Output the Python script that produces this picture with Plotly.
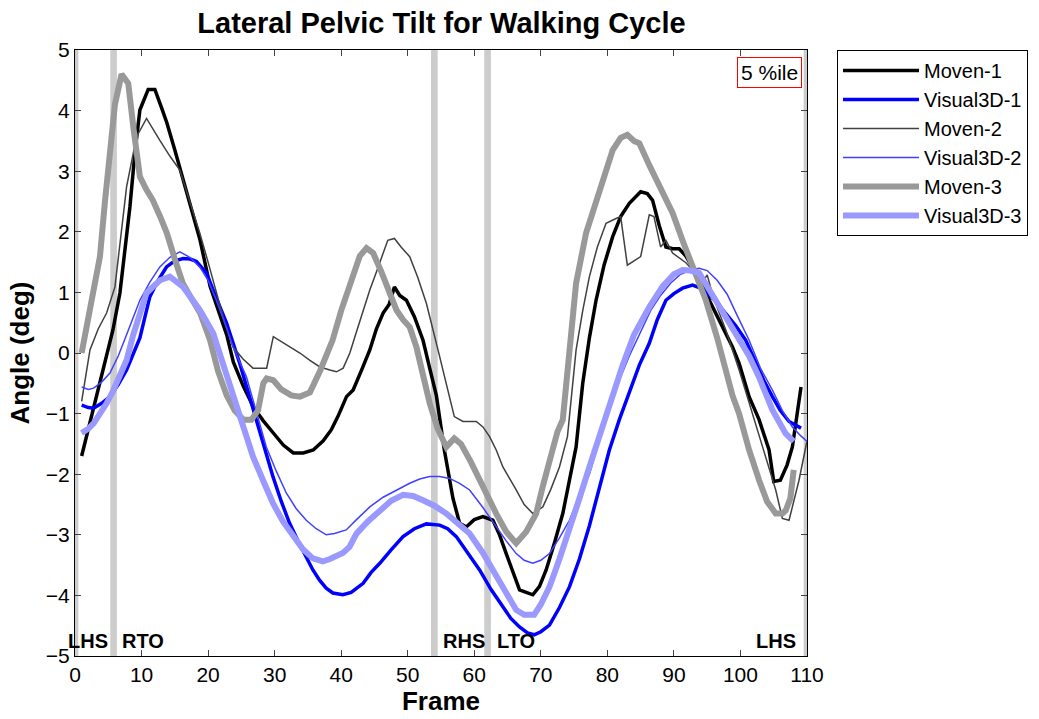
import plotly.graph_objects as go

# ---------------- data ----------------
m1_x = [1, 2, 3, 4, 5, 5.7, 6.75, 7.5, 8.25, 9, 9.75, 11, 12, 13, 13.8, 15, 16.3, 17.5, 18.8, 20.3, 21.5, 22.8, 23.8, 25.3, 26.8, 28.3, 29.8, 31.3, 32.8, 34.3, 35.8, 37.3, 38.5, 39.5, 40.8, 41.8, 43, 44.3, 45.3, 46.3, 47.2, 48, 48.8, 49.8, 51, 52.3, 53.3, 54.3, 55.5, 56.8, 57.8, 58.8, 60, 61.3, 62.8, 63.8, 64.8, 65.8, 66.8, 67.8, 68.8, 69.8, 70.8, 72, 73.3, 74.3, 75.3, 76.3, 77.3, 78.3, 79.5, 80.8, 82, 83.3, 85, 86, 86.8, 87.8, 88.8, 89.8, 90.8, 91.8, 93.3, 94.5, 95.8, 97.3, 98.8, 99.8, 101.3, 102.8, 104.3, 105, 106, 107, 107.8, 109.1]
m1_y = [-1.7, -1.25, -0.83, -0.4, 0.05, 0.38, 0.99, 1.7, 2.41, 3.3, 4.01, 4.35, 4.35, 4.05, 3.8, 3.35, 2.85, 2.35, 1.86, 1.1, 0.7, 0.3, -0.15, -0.55, -0.89, -1.12, -1.32, -1.52, -1.65, -1.65, -1.6, -1.45, -1.27, -1.05, -0.72, -0.61, -0.3, 0.05, 0.4, 0.66, 0.8, 1.09, 0.95, 0.87, 0.6, 0.21, -0.25, -0.7, -1.6, -2.4, -2.81, -2.87, -2.75, -2.7, -2.76, -3.0, -3.31, -3.6, -3.91, -3.95, -3.99, -3.85, -3.58, -3.15, -2.65, -2.1, -1.55, -0.5, 0.25, 0.87, 1.45, 1.92, 2.25, 2.47, 2.66, 2.63, 2.52, 2.1, 1.75, 1.72, 1.72, 1.6, 1.32, 1.05, 0.76, 0.45, 0.1, -0.17, -0.72, -1.1, -1.6, -2.12, -2.1, -1.85, -1.55, -0.56]

v1_x = [1, 2, 2.8, 4, 5.25, 6.5, 7.75, 8.75, 9.75, 11.25, 12.5, 13.75, 15, 16.25, 17.3, 18.25, 19.75, 21.25, 22.75, 24.75, 26, 27.25, 28.5, 29.75, 31, 32.25, 33.5, 34.75, 35.75, 36.75, 37.75, 38.75, 40.25, 41.5, 43.3, 44.5, 45.8, 47.5, 49.3, 51, 52.8, 54.8, 56, 57.3, 59, 60.8, 62.5, 64.3, 65.5, 66.8, 68, 69, 70, 71.3, 72.8, 74.3, 75.8, 77.3, 78.8, 80.3, 81.8, 83.3, 84.8, 86.3, 87.5, 88.8, 90, 91.3, 92.8, 93.8, 94.8, 96.3, 97.8, 99.3, 100.8, 102.3, 103.5, 104.8, 106, 107.3, 108.3, 109.1]
v1_y = [-0.86, -0.9, -0.91, -0.83, -0.72, -0.52, -0.28, 0.0, 0.25, 0.93, 1.2, 1.42, 1.52, 1.56, 1.55, 1.51, 1.32, 0.9, 0.5, -0.17, -0.65, -1.1, -1.6, -2.04, -2.45, -2.81, -3.1, -3.36, -3.58, -3.75, -3.88, -3.96, -3.99, -3.95, -3.8, -3.62, -3.47, -3.25, -3.03, -2.9, -2.82, -2.84, -2.9, -3.03, -3.3, -3.58, -3.9, -4.19, -4.38, -4.52, -4.62, -4.65, -4.6, -4.49, -4.2, -3.86, -3.4, -2.85, -2.2, -1.6, -1.1, -0.65, -0.2, 0.16, 0.55, 0.87, 0.98, 1.07, 1.12, 1.08, 1.01, 0.85, 0.65, 0.45, 0.21, -0.17, -0.45, -0.72, -0.95, -1.13, -1.2, -1.24]

m2_x = [1, 2.25, 3.5, 4.75, 6, 7, 7.75, 9.25, 10.75, 12.75, 14.25, 15.75, 17.25, 18.75, 20, 21.25, 22.5, 23.75, 25.25, 26.75, 28.8, 29.8, 31.8, 33.8, 35.3, 36.8, 38.3, 39.3, 40.3, 41.3, 42.3, 43.3, 44.3, 45.5, 47, 48, 49, 50.3, 51.5, 52.8, 53.8, 54.8, 56, 57, 58.3, 60.3, 61.3, 62.3, 63.3, 64.3, 66.3, 67.5, 68.8, 70.3, 71.5, 72.8, 74, 74.6, 75.3, 76.3, 77.3, 78.5, 79.8, 81.3, 82, 83, 84, 85, 86.3, 87, 88, 88.8, 89.8, 91.8, 93, 94.3, 95, 95.5, 96.5, 97.8, 99.8, 101.8, 103.8, 105.3, 106.3, 107.3, 108.8, 110]
m2_y = [-0.8, 0.05, 0.4, 0.66, 1.09, 2.0, 2.74, 3.57, 3.87, 3.51, 3.25, 3.02, 2.5, 1.98, 1.5, 0.99, 0.5, 0.1, -0.1, -0.25, -0.25, 0.27, 0.13, 0.0, -0.12, -0.23, -0.28, -0.31, -0.25, 0.0, 0.35, 0.7, 1.04, 1.4, 1.86, 1.89, 1.75, 1.59, 1.25, 0.82, 0.4, -0.06, -0.6, -1.05, -1.13, -1.13, -1.22, -1.38, -1.6, -1.88, -2.26, -2.5, -2.65, -2.54, -2.25, -1.88, -1.38, -0.7, 0.05, 0.7, 1.26, 1.75, 2.14, 2.22, 2.25, 1.45, 1.52, 1.59, 2.28, 2.25, 1.75, 1.86, 1.65, 1.49, 1.35, 1.16, 1.29, 1.09, 0.75, 0.38, -0.28, -1.0, -1.71, -2.26, -2.73, -2.76, -2.1, -1.45]

v2_x = [1, 2, 2.8, 4, 5.25, 6.5, 7.75, 8.75, 9.75, 11.25, 12.75, 14.25, 15.75, 17.25, 18.75, 20, 21.25, 22.5, 23.75, 25.75, 27.25, 28.75, 30.25, 31.75, 33.25, 34.75, 36.25, 37.75, 39, 40.75, 42.3, 44.3, 46.3, 48.3, 50.3, 51.8, 53.3, 54.8, 56.3, 57.8, 59.3, 61.3, 63.3, 64.8, 66.3, 67.5, 68.8, 70, 71.3, 72.8, 74.3, 75.8, 77.3, 78.8, 80.3, 81.8, 83.3, 85, 86.5, 88, 89.5, 91, 92.5, 93.8, 95, 96.5, 98, 99.5, 101.3, 103, 104.8, 106.3, 107.8, 109, 110]
v2_y = [-0.56, -0.6, -0.58, -0.48, -0.33, -0.05, 0.3, 0.6, 0.87, 1.17, 1.42, 1.58, 1.67, 1.58, 1.42, 1.2, 0.87, 0.5, 0.1, -0.39, -0.95, -1.55, -1.95, -2.31, -2.57, -2.76, -2.9, -3.0, -2.98, -2.92, -2.75, -2.54, -2.38, -2.26, -2.15, -2.08, -2.04, -2.04, -2.07, -2.15, -2.26, -2.55, -2.87, -3.1, -3.31, -3.42, -3.47, -3.42, -3.31, -3.05, -2.76, -2.35, -2.0, -1.45, -0.95, -0.45, -0.05, 0.35, 0.7, 0.95, 1.15, 1.3, 1.37, 1.4, 1.36, 1.2, 0.97, 0.62, 0.21, -0.25, -0.61, -0.95, -1.22, -1.36, -1.46]

m3_x = [1, 2.25, 3, 3.75, 4.5, 5.25, 6, 7, 8, 8.8, 9.75, 10.7, 11.7, 12.8, 13.8, 15, 16.2, 17.5, 18.8, 20.3, 21.5, 22.8, 24, 25.3, 26.5, 27.5, 28.3, 28.8, 29.8, 31, 32.5, 33.8, 35.3, 36.8, 38.7, 40, 41.5, 42.8, 43.8, 44.8, 46, 47.2, 48.3, 49.3, 50.3, 51.3, 52.3, 53.3, 54.5, 55.8, 57, 58, 59.5, 60.8, 62, 63.3, 64.8, 66.3, 67.8, 69.3, 70.3, 71.5, 72.5, 73.3, 74, 74.6, 75.3, 76.8, 78.3, 80.8, 82, 83, 84, 84.8, 86.3, 88, 89.8, 91.5, 93, 94.8, 96.5, 97.8, 98.8, 99.8, 101.3, 102.8, 104, 105.3, 106.3, 106.8, 107.5, 108]
m3_y = [0.0, 0.76, 1.2, 1.59, 2.5, 3.4, 4.1, 4.6, 4.45, 3.7, 2.91, 2.7, 2.52, 2.25, 1.98, 1.55, 1.15, 0.9, 0.66, 0.21, -0.3, -0.7, -0.95, -1.1, -1.1, -0.95, -0.5, -0.42, -0.45, -0.6, -0.7, -0.72, -0.65, -0.3, 0.21, 0.7, 1.2, 1.6, 1.73, 1.65, 1.35, 1.0, 0.71, 0.55, 0.43, 0.1, -0.35, -0.83, -1.25, -1.55, -1.41, -1.5, -1.8, -2.1, -2.35, -2.65, -2.95, -3.14, -2.95, -2.65, -2.2, -1.7, -1.3, -1.1, -0.3, 0.3, 1.15, 1.98, 2.52, 3.35, 3.55, 3.6, 3.5, 3.46, 3.1, 2.7, 2.31, 1.8, 1.4, 0.87, 0.25, -0.33, -0.7, -1.0, -1.6, -2.1, -2.45, -2.65, -2.65, -2.6, -2.4, -1.93]

v3_x = [1, 2, 2.8, 3.8, 4.75, 5.75, 6.75, 7.75, 8.75, 10.75, 12.75, 14.25, 16.25, 18.75, 20.75, 22.75, 24.75, 26.75, 28.25, 29.75, 31.25, 32.75, 34.25, 35.75, 37.25, 38.3, 39.25, 40.25, 41.25, 42.3, 44, 45.8, 47.5, 49.3, 50.8, 52.3, 54, 55.8, 57.5, 59.3, 61.3, 63.3, 64.8, 66.3, 67.5, 69, 70, 71.3, 72.8, 74.3, 75.8, 77.3, 79, 80.8, 82.3, 84, 86.3, 88.3, 90, 91.3, 92.5, 93.8, 95.3, 96.8, 98.3, 99.8, 101.3, 102.8, 104.8, 106.8, 108]
v3_y = [-1.32, -1.25, -1.16, -1.0, -0.83, -0.62, -0.39, -0.12, 0.3, 0.99, 1.2, 1.26, 1.09, 0.71, 0.33, -0.33, -1.0, -1.71, -2.1, -2.48, -2.78, -3.03, -3.24, -3.39, -3.44, -3.4, -3.36, -3.3, -3.2, -2.98, -2.78, -2.59, -2.44, -2.34, -2.36, -2.43, -2.52, -2.65, -2.8, -2.98, -3.3, -3.69, -3.98, -4.24, -4.32, -4.32, -4.15, -3.86, -3.4, -2.92, -2.4, -1.88, -1.3, -0.72, -0.2, 0.3, 0.76, 1.1, 1.3, 1.37, 1.36, 1.32, 1.05, 0.76, 0.5, 0.21, -0.05, -0.4, -0.94, -1.33, -1.46]

event_frames = [0, 5.8, 54, 62, 110]
event_labels = ["LHS", "RTO", "RHS", "LTO", "LHS"]
event_label_x = [1.95, 10.2, 58.4, 66.3, 105.3]

series = [
    ("Moven-1", m1_x, m1_y, "#000000", 3.5),
    ("Visual3D-1", v1_x, v1_y, "#0000ff", 3.5),
    ("Moven-2", m2_x, m2_y, "#404040", 1.5),
    ("Visual3D-2", v2_x, v2_y, "#4040ff", 1.5),
    ("Moven-3", m3_x, m3_y, "#999999", 6),
    ("Visual3D-3", v3_x, v3_y, "#9999ff", 6),
]

FONT = "Arial, Liberation Sans, sans-serif"

fig = go.Figure()
for name, xs, ys, color, w in series:
    fig.add_trace(go.Scatter(x=xs, y=ys, mode="lines", name=name,
                             line=dict(color=color, width=w)))

for ev in event_frames:
    fig.add_shape(type="rect", xref="x", yref="y", x0=ev - 0.5, x1=ev + 0.5,
                  y0=-5, y1=5, fillcolor="#cccccc", line=dict(width=0), layer="below")

for lx, lab in zip(event_label_x, event_labels):
    fig.add_annotation(x=lx, y=-4.75, xref="x", yref="y", text="<b>%s</b>" % lab,
                       showarrow=False, font=dict(family=FONT, size=20, color="black"))

fig.add_annotation(x=0.993, y=0.988, xref="paper", yref="paper", xanchor="right", yanchor="top",
                   text="5 %ile", showarrow=False, bordercolor="#ff0000", borderwidth=1,
                   borderpad=3, bgcolor="white", font=dict(family=FONT, size=21, color="black"))

fig.update_layout(
    width=1039, height=719,
    margin=dict(l=75, r=231, t=50, b=63),
    paper_bgcolor="white", plot_bgcolor="white",
    font=dict(family=FONT, size=21, color="black"),
    title=dict(text="<b>Lateral Pelvic Tilt for Walking Cycle</b>", x=(75 + 808) / 2 / 1039,
               xanchor="center", y=1 - 23 / 719, yanchor="middle",
               font=dict(family=FONT, size=29, color="black")),
    legend=dict(x=1.0396, y=1.0, xanchor="left", yanchor="top", bordercolor="black",
                borderwidth=1, bgcolor="white", font=dict(family=FONT, size=20),
                itemwidth=76, tracegroupgap=0),
    showlegend=True,
)
fig.update_xaxes(range=[0, 110], tickvals=list(range(0, 111, 10)), ticks="inside", ticklen=6,
                 showline=True, linecolor="black", linewidth=1, mirror="ticks", showgrid=False,
                 zeroline=False, title=dict(text="<b>Frame</b>", font=dict(size=26), standoff=2),
                 tickfont=dict(size=21))
fig.update_yaxes(range=[-5, 5], tickvals=list(range(-5, 6)), ticks="inside", ticklen=6,
                 showline=True, linecolor="black", linewidth=1, mirror="ticks", showgrid=False,
                 zeroline=False, title=dict(text="<b>Angle (deg)</b>", font=dict(size=26), standoff=8),
                 tickfont=dict(size=21))

fig.write_html("out.html")
